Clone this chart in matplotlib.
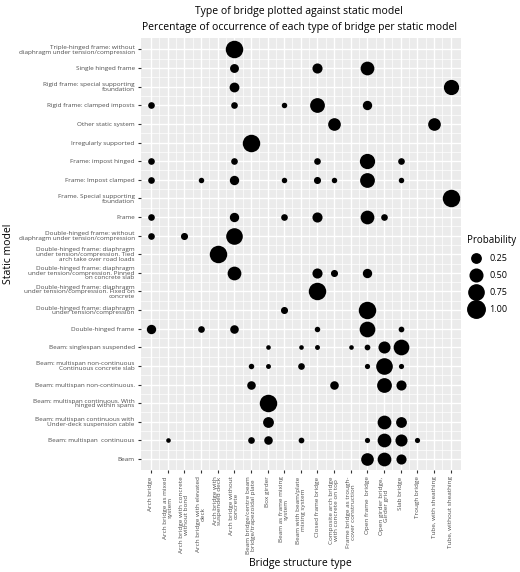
import matplotlib.pyplot as plt
from matplotlib.lines import Line2D

bridge_types = [
    'Arch bridge', 'Arch bridge as mixed\nsystem', 'Arch bridge with concrete\nwithout bond',
    'Arch bridge with elevated\ndeck', 'Arch bridge with\nsuspended deck', 'Arch bridge without\nconcrete',
    'Beam bridge/centre beam\nbridge/trapezoidal plate', 'Box girder', 'Beam as frame mixing\nsystem',
    'Beam with beam/plate\nmixing system', 'Closed frame bridge',
    'Composite arch bridge\nwith concrete on top', 'Frame bridge as trough-\ncover construction',
    'Open frame  bridge', 'Open girder bridge,\nGirder grid', 'Slab bridge', 'Trough bridge',
    'Tube, with sheathing', 'Tube, without sheathing',
]

static_models = [
    'Triple-hinged frame: without\ndiaphragm under tension/compression',
    'Single hinged frame',
    'Rigid frame: special supporting\nfoundation',
    'Rigid frame: clamped imposts',
    'Other static system',
    'Irregularly supported',
    'Frame: impost hinged',
    'Frame: Impost clamped',
    'Frame. Special supporting\nfoundation',
    'Frame',
    'Double-hinged frame: without\ndiaphragm under tension/compression',
    'Double-hinged frame: diaphragm\nunder tension/compression. Tied\narch take over road loads',
    'Double-hinged frame: diaphragm\nunder tension/compression. Pinned\non concrete slab',
    'Double-hinged frame: diaphragm\nunder tension/compression. Fixed on\nconcrete',
    'Double-hinged frame: diaphragm\nunder tension/compression',
    'Double-hinged frame',
    'Beam: singlespan suspended',
    'Beam: multispan non-continuous\nContinuous concrete slab',
    'Beam: multispan non-continuous.',
    'Beam: multispan continuous. With\nhinged within spans',
    'Beam: multispan continuous with\nUnder-deck suspension cable',
    'Beam: multispan  continuous',
    'Beam',
]

# (static model row, bridge type column, probability)
probs = {
    0: {5: 1.0},
    1: {5: 0.22, 10: 0.3, 13: 0.6},
    2: {5: 0.28, 18: 0.75},
    3: {0: 0.1, 5: 0.1, 8: 0.05, 10: 0.7, 13: 0.25},
    4: {11: 0.5, 17: 0.5},
    5: {6: 1.0},
    6: {0: 0.1, 5: 0.1, 10: 0.1, 13: 0.75, 15: 0.1},
    7: {0: 0.1, 3: 0.05, 5: 0.25, 8: 0.05, 10: 0.12, 11: 0.05, 13: 0.7, 15: 0.05},
    8: {18: 1.0},
    9: {0: 0.1, 5: 0.25, 8: 0.1, 10: 0.3, 13: 0.6, 14: 0.1},
    10: {0: 0.1, 2: 0.12, 5: 0.9},
    11: {4: 1.0},
    12: {5: 0.6, 10: 0.3, 11: 0.12, 13: 0.25},
    13: {10: 1.0},
    14: {8: 0.12, 13: 1.0},
    15: {0: 0.25, 3: 0.1, 5: 0.2, 10: 0.05, 13: 0.8, 15: 0.06},
    16: {7: 0.02, 9: 0.02, 10: 0.03, 12: 0.02, 13: 0.06, 14: 0.45, 15: 0.8},
    17: {6: 0.05, 7: 0.03, 9: 0.1, 13: 0.04, 14: 0.9, 15: 0.04},
    18: {6: 0.2, 11: 0.2, 14: 0.7, 15: 0.3},
    19: {7: 1.0},
    20: {7: 0.35, 14: 0.6, 15: 0.35},
    21: {1: 0.02, 6: 0.1, 7: 0.2, 9: 0.06, 13: 0.04, 14: 0.6, 15: 0.45, 16: 0.04},
    22: {13: 0.5, 14: 0.6, 15: 0.3},
}

def size(p):
    return 8 + 150 * p

plt.rcParams['font.family'] = ['Open Sans', 'DejaVu Sans']
fig = plt.figure(figsize=(5.2, 5.72), dpi=100)
ax = fig.add_axes([0.271, 0.178, 0.615, 0.755])
ax.set_facecolor('#ebebeb')
n_y = len(static_models)
for r, cols in probs.items():
    for c, p in cols.items():
        ax.scatter(c, n_y - 1 - r, s=size(p), color='black', zorder=3, linewidths=0)

ax.set_xlim(-0.6, len(bridge_types) - 0.4)
ax.set_ylim(-0.6, n_y - 0.4)
ax.set_xticks(range(len(bridge_types)))
ax.set_xticklabels(bridge_types, rotation=90, fontsize=4.6, color='#4d4d4d', linespacing=0.9)
ax.set_yticks(range(n_y))
ax.set_yticklabels(static_models[::-1], fontsize=4.6, color='#4d4d4d', linespacing=0.9)
ax.set_xticks([i + 0.5 for i in range(len(bridge_types) - 1)], minor=True)
ax.set_yticks([i + 0.5 for i in range(n_y - 1)], minor=True)
ax.grid(which='major', color='white', linewidth=1.0)
ax.grid(which='minor', color='white', linewidth=0.5)
ax.set_axisbelow(True)
ax.tick_params(which='major', length=2.5, color='#333333', pad=2)
ax.tick_params(which='minor', length=0)
for s in ax.spines.values():
    s.set_visible(False)
ax.set_xlabel('Bridge structure type', fontsize=7.5, labelpad=3)
ax.set_ylabel('Static model', fontsize=7.5, labelpad=3)

fig.text(0.575, 0.99, 'Type of bridge plotted against static model', ha='center', va='top', fontsize=7.5)
fig.text(0.575, 0.962, 'Percentage of occurrence of each type of bridge per static model', ha='center', va='top', fontsize=7.5)

handles = [Line2D([], [], marker='o', linestyle='', color='black', markersize=size(v) ** 0.5)
           for v in [0.25, 0.5, 0.75, 1.0]]
fig.legend(handles, ['0.25', '0.50', '0.75', '1.00'], title='Probability', loc='center left',
           bbox_to_anchor=(0.885, 0.52), frameon=False, fontsize=6.5, title_fontsize=7,
           labelspacing=0.9, handletextpad=0.5, borderpad=0.2, alignment='left')

fig.savefig('out.png', dpi=100)
